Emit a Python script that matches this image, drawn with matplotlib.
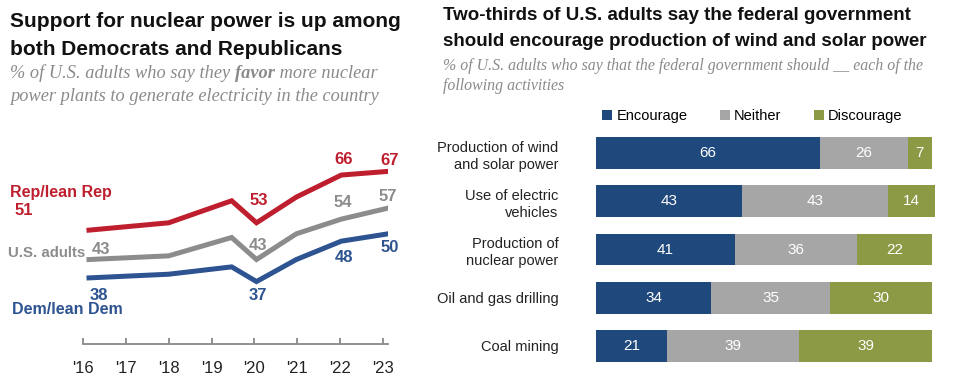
import numpy as np
import matplotlib
matplotlib.use("Agg")
from matplotlib import pyplot as plt

# left chart data
years = [2016.14, 2018.0, 2019.47, 2020.05, 2020.98, 2022.03, 2023.12]
rep = [51, 53, 59, 53, 60, 66, 67]
total = [43, 44, 49, 43, 50, 54, 57]
dem = [38, 39, 41, 37, 43, 48, 50]
tick_years = [2016, 2017, 2018, 2019, 2020, 2021, 2022, 2023]
tick_labels = ["'16", "'17", "'18", "'19", "'20", "'21", "'22", "'23"]

# right chart data
activities = ["Production of wind\nand solar power", "Use of electric\nvehicles",
              "Production of\nnuclear power", "Oil and gas drilling", "Coal mining"]
encourage = [66, 43, 41, 34, 21]
neither = [26, 43, 36, 35, 39]
discourage = [7, 14, 22, 30, 39]
series_names = ["Encourage", "Neither", "Discourage"]

RED = "#BE1E2D"
GRAY_L = "#8C8C8C"
BLUE_L = "#2D5390"
BLUE_B = "#1F487C"
GRAY_B = "#A6A6A6"
OLIVE = "#8C9A45"
SUB = "#8A8A8A"

plt.rcParams['font.family'] = ['Liberation Sans', 'DejaVu Sans']

W, H = 972, 392
fig = plt.figure(figsize=(W / 100, H / 100), dpi=100)


def fx(px):
    return px / W


def fy(py):
    return 1 - py / H


# ---- titles ----
fig.text(fx(10), fy(27), "Support for nuclear power is up among", fontsize=15,
         fontweight="bold", va="baseline", color="#111111")
fig.text(fx(10), fy(55), "both Democrats and Republicans", fontsize=15,
         fontweight="bold", va="baseline", color="#111111")

fig.canvas.draw()
rend = fig.canvas.get_renderer()


def mixed(x, y, parts, **kw):
    # draw pieces of text one after another on one line
    for s, w in parts:
        t = fig.text(x, y, s, fontweight=w, va="baseline", **kw)
        bb = t.get_window_extent(renderer=rend)
        x = x + bb.width / W


serif = dict(family=["Liberation Serif", "DejaVu Serif"], style="italic",
             fontsize=13.2, color=SUB)
mixed(fx(10), fy(78), [("% of U.S. adults who say they ", "normal"),
                       ("favor", "bold"), (" more nuclear", "normal")], **serif)
fig.text(fx(10), fy(101), "power plants to generate electricity in the country",
         va="baseline", **serif)

fig.text(fx(443), fy(20), "Two-thirds of U.S. adults say the federal government",
         fontsize=13.5, fontweight="bold", va="baseline", color="#111111")
fig.text(fx(443), fy(46), "should encourage production of wind and solar power",
         fontsize=13.5, fontweight="bold", va="baseline", color="#111111")
serif2 = dict(serif)
serif2["fontsize"] = 11.4
fig.text(fx(443), fy(70), "% of U.S. adults who say that the federal government should __ each of the",
         va="baseline", **serif2)
fig.text(fx(443), fy(90), "following activities", va="baseline", **serif2)

# ---- line chart ----
ax = fig.add_axes([fx(83), fy(344), fx(305), (344 - 142) / H])
ax.plot(years, rep, color=RED, lw=3.6, solid_joinstyle="miter")
ax.plot(years, total, color=GRAY_L, lw=3.6, solid_joinstyle="miter")
ax.plot(years, dem, color=BLUE_L, lw=3.6, solid_joinstyle="miter")
ax.set_xlim(2016, 2023.12)
ax.set_ylim(20, 75)
for s in ["top", "right", "left"]:
    ax.spines[s].set_visible(False)
ax.spines["bottom"].set_color("#888888")
ax.spines["bottom"].set_linewidth(1.3)
ax.set_yticks([])
ax.set_xticks(tick_years)
ax.set_xticklabels(tick_labels, fontsize=12, color="#222222")
ax.tick_params(axis="x", direction="in", length=4, color="#888888", width=1.3, pad=12)

lab = dict(fontsize=12, fontweight="bold", ha="center", va="center",
           textcoords="offset points")
ax.annotate(str(rep[0]), (years[0], rep[0]), xytext=(-47, 14), color=RED, **lab)
ax.annotate(str(rep[3]), (years[3], rep[3]), xytext=(2, 16), color=RED, **lab)
ax.annotate(str(rep[5]), (years[5], rep[5]), xytext=(2, 11), color=RED, **lab)
ax.annotate(str(rep[6]), (years[6], rep[6]), xytext=(1, 8), color=RED, **lab)
ax.annotate(str(total[0]), (years[0], total[0]), xytext=(9, 7), color=GRAY_L, **lab)
ax.annotate(str(total[3]), (years[3], total[3]), xytext=(1, 10), color=GRAY_L, **lab)
ax.annotate(str(total[5]), (years[5], total[5]), xytext=(1, 12), color=GRAY_L, **lab)
ax.annotate(str(total[6]), (years[6], total[6]), xytext=(0, 8), color=GRAY_L, **lab)
ax.annotate(str(dem[0]), (years[0], dem[0]), xytext=(7, -13), color=BLUE_L, **lab)
ax.annotate(str(dem[3]), (years[3], dem[3]), xytext=(1, -10), color=BLUE_L, **lab)
ax.annotate(str(dem[5]), (years[5], dem[5]), xytext=(2, -12), color=BLUE_L, **lab)
ax.annotate(str(dem[6]), (years[6], dem[6]), xytext=(1, -10), color=BLUE_L, **lab)

fig.text(fx(10), fy(192), "Rep/lean Rep", color=RED, fontsize=11.5, fontweight="bold", va="center")
fig.text(fx(8), fy(253), "U.S. adults", color=GRAY_L, fontsize=10.8, fontweight="bold", va="center")
fig.text(fx(12), fy(309), "Dem/lean Dem", color=BLUE_L, fontsize=11.5, fontweight="bold", va="center")

# ---- stacked bars ----
bx = fig.add_axes([fx(596), fy(370), fx(339), 241 / H])
ypos = np.arange(len(activities))
left = np.zeros(len(activities))
for vals, col, name in zip([encourage, neither, discourage], [BLUE_B, GRAY_B, OLIVE], series_names):
    vals = np.array(vals)
    bars = bx.barh(ypos, vals, left=left, height=0.66, color=col, label=name)
    for b, v in zip(bars, vals):
        bx.text(b.get_x() + b.get_width() / 2, b.get_y() + b.get_height() / 2, str(v),
                ha="center", va="center", color="white", fontsize=11)
    left = left + vals
bx.set_xlim(0, 100)
bx.set_ylim(4.5, -0.5)
bx.set_yticks(ypos)
bx.set_yticklabels(activities, fontsize=10.5, color="#222222", linespacing=1.3)
bx.tick_params(axis="y", length=0, pad=27)
bx.set_xticks([])
for s in bx.spines.values():
    s.set_visible(False)
leg = bx.legend(loc="lower left", bbox_to_anchor=(0.0, 1.0), ncol=3, frameon=False,
                fontsize=10.5, handlelength=0.7, handleheight=0.7, handletextpad=0.3,
                columnspacing=2.2, borderaxespad=0.0)

fig.savefig("out.png", dpi=100)
